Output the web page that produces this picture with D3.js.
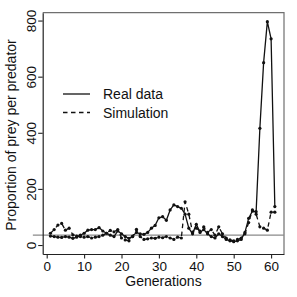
<!DOCTYPE html>
<html>
<head>
<meta charset="utf-8">
<script src="https://cdn.jsdelivr.net/npm/d3@7"></script>
<style>
  html, body { margin: 0; padding: 0; background: #fff; }
  text { font-family: "Liberation Sans", Arial, sans-serif; fill: #111; }
</style>
</head>
<body>
<div id="chart"></div>
<script>
// generations 1..61
var generations = d3.range(1, 62);

var realData = [32, 30, 28, 27, 30, 28, 24, 28, 35, 42,
	53, 55, 55, 62, 50, 42, 35, 30, 50, 40,
	30, 24, 32, 45, 40, 38, 45, 60, 70, 97,
	101, 88, 125, 143, 137, 131, 110, 60, 40, 74,
	45, 55, 40, 30, 25, 40, 30, 20, 15, 12,
	15, 20, 45, 95, 121, 119, 416, 650, 796, 735,
	137];

var simulation = [42, 55, 71, 77, 53, 60, 36, 32, 30, 28,
	30, 25, 28, 30, 35, 42, 52, 47, 55, 25,
	18, 15, 30, 56, 30, 20, 22, 25, 24, 28,
	26, 30, 25, 20, 28, 25, 154, 110, 45, 60,
	50, 65, 45, 55, 35, 65, 40, 25, 18, 15,
	20, 25, 40, 80, 125, 110, 65, 60, 53, 117,
	117];

var refLevel = 35;
var xTicks = [0, 10, 20, 30, 40, 50, 60];
var yTicks = [0, 200, 400, 600, 800];
var legendLabels = ["Real data", "Simulation"];

var width = 297, height = 297;

var svg = d3.select("#chart")
	.append("svg")
	.attr("width", width)
	.attr("height", height);

var x = d3.scaleLinear().domain([-1.07, 63.45]).range([42.7, 284]);
var y = d3.scaleLinear().domain([-32, 828]).range([254, 12.7]);

// box: top and right in grey
svg.append("path")
	.attr("d", "M" + x.range()[0] + "," + y.range()[1] + "H" + x.range()[1] + "V" + y.range()[0])
	.attr("fill", "none")
	.attr("stroke", "#6f6f6f")
	.attr("stroke-width", 1.2);

// reference line
svg.append("line")
	.attr("x1", x(-3.7)).attr("x2", x(63.45))
	.attr("y1", y(refLevel)).attr("y2", y(refLevel))
	.attr("stroke", "#8a8a8a")
	.attr("stroke-width", 1.3);

// x axis
var xAxis = svg.append("g")
	.attr("transform", "translate(0," + y.range()[0] + ")")
	.call(d3.axisBottom(x).tickValues(xTicks).tickSize(4.5).tickSizeOuter(0).tickPadding(3));
xAxis.select(".domain").attr("stroke", "#222").attr("stroke-width", 1.2);
xAxis.selectAll(".tick line").attr("stroke", "#222").attr("stroke-width", 1.1);
xAxis.selectAll(".tick text").style("font-size", "13.5px").attr("fill", "#111");

// y axis, labels rotated
var yAxis = svg.append("g")
	.attr("transform", "translate(" + x.range()[0] + ",0)")
	.call(d3.axisLeft(y).tickValues(yTicks).tickSize(4.5).tickSizeOuter(0));
yAxis.select(".domain").attr("stroke", "#222").attr("stroke-width", 1.2);
yAxis.selectAll(".tick line").attr("stroke", "#222").attr("stroke-width", 1.1);
yAxis.selectAll(".tick text")
	.attr("x", null).attr("dy", null)
	.attr("text-anchor", "middle")
	.attr("transform", "translate(-6.5,0) rotate(-90)")
	.style("font-size", "13.5px")
	.attr("fill", "#111");

// axis titles
svg.append("text")
	.attr("x", 163.5).attr("y", 286)
	.attr("text-anchor", "middle")
	.style("font-size", "14px")
	.text("Generations");

svg.append("text")
	.attr("transform", "translate(16,135) rotate(-90)")
	.attr("text-anchor", "middle")
	.style("font-size", "14px")
	.text("Proportion of prey per predator");

// series
var series = [
	{ name: legendLabels[0], values: realData, dash: null },
	{ name: legendLabels[1], values: simulation, dash: "4.5,3.5" }
];

var line = d3.line()
	.x(function(d) { return x(d[0]); })
	.y(function(d) { return y(d[1]); });

series.forEach(function(s) {
	var pts = generations.map(function(g, i) { return [g, s.values[i]]; });
	svg.append("path")
		.datum(pts)
		.attr("d", line)
		.attr("fill", "none")
		.attr("stroke", "#111")
		.attr("stroke-width", 1.3)
		.attr("stroke-dasharray", s.dash);
	svg.append("g").selectAll("circle")
		.data(pts)
		.enter().append("circle")
		.attr("cx", function(d) { return x(d[0]); })
		.attr("cy", function(d) { return y(d[1]); })
		.attr("r", 1.6)
		.attr("fill", "#111");
});

// legend
var legend = svg.append("g").attr("transform", "translate(63,94)");
series.forEach(function(s, i) {
	legend.append("line")
		.attr("x1", 0).attr("x2", 27)
		.attr("y1", i * 18.5).attr("y2", i * 18.5)
		.attr("stroke", "#111")
		.attr("stroke-width", 1.3)
		.attr("stroke-dasharray", s.dash);
	legend.append("text")
		.attr("x", 40).attr("y", i * 18.5 + 5)
		.style("font-size", "14px")
		.text(s.name);
});
</script>
</body>
</html>
